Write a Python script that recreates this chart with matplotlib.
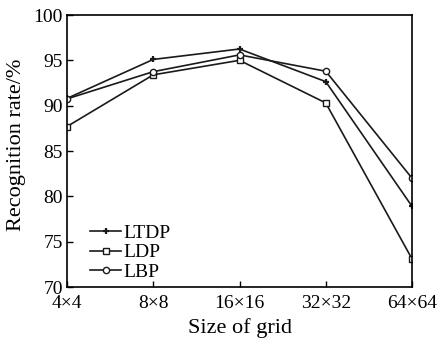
import matplotlib
matplotlib.use("Agg")
import matplotlib.pyplot as plt

categories = ["4×4", "8×8", "16×16", "32×32", "64×64"]
ltdp = [90.8, 95.1, 96.25, 92.65, 78.9]
ldp = [87.7, 93.4, 95.0, 90.3, 73.1]
lbp = [90.75, 93.75, 95.6, 93.8, 82.0]
yticks = [70, 75, 80, 85, 90, 95, 100]

plt.rcParams['font.family'] = ['Liberation Serif', 'DejaVu Serif']

fig = plt.figure(figsize=(4.38, 3.41), dpi=100)
ax = fig.add_axes([67/438, 1-287/341, (412-67)/438, (287-15)/341])
x = list(range(len(categories)))
ax.plot(x, ltdp, color='#1a1a1a', lw=1.2, marker='+', ms=5, mew=1.6, label='LTDP')
ax.plot(x, ldp, color='#1a1a1a', lw=1.2, marker='s', ms=4.5, mfc='white', mew=1.0, label='LDP')
ax.plot(x, lbp, color='#1a1a1a', lw=1.2, marker='o', ms=4.5, mfc='white', mew=1.0, label='LBP')

ax.set_xlim(0, 4)
ax.set_ylim(70, 100)
ax.set_xticks(x)
ax.set_xticklabels(categories)
ax.set_yticks(yticks)
ax.tick_params(direction='in', length=4, width=1, labelsize=14, top=False, right=False)
ax.tick_params(axis='x', pad=6)
ax.tick_params(axis='y', pad=3)
for s in ax.spines.values():
    s.set_linewidth(1.2)
ax.set_xlabel('Size of grid', fontsize=16, labelpad=4)
ax.set_ylabel('Recognition rate/%', fontsize=16, labelpad=4)
ax.yaxis.set_label_coords(-0.118, 0.524)
ax.legend(loc='lower left', frameon=False, fontsize=14, handlelength=1.6,
          handletextpad=0.1, labelspacing=0.08, borderaxespad=0.0,
          bbox_to_anchor=(0.045, -0.005))

fig.savefig('out.png', dpi=100)
